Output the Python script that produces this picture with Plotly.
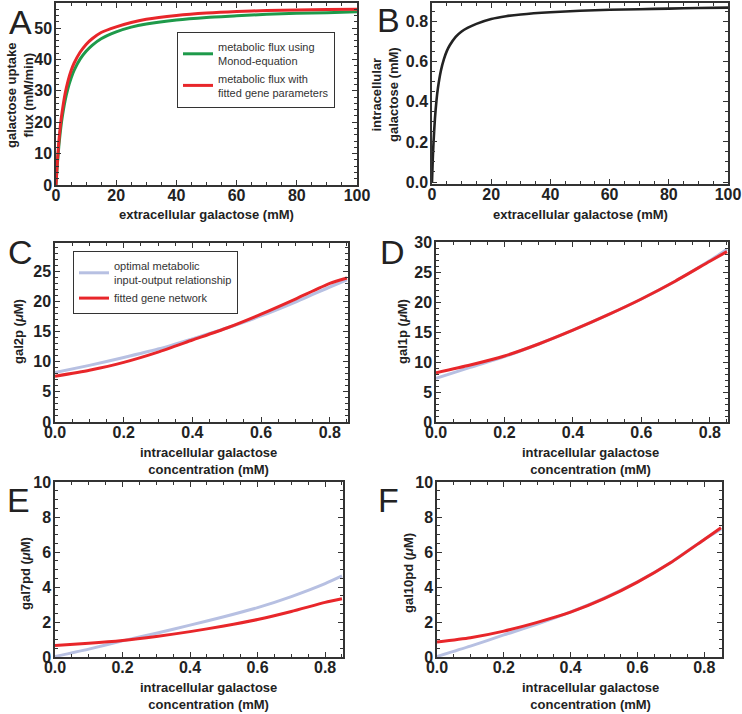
import plotly.graph_objects as go

W, H = 742, 714

# ---------------- data ----------------
# Panel A: galactose uptake flux vs extracellular galactose
a_x = [0, 0.25, 0.5, 1, 1.5, 2, 3, 4, 5, 6, 8, 10, 12, 15, 20, 25, 30, 40, 50, 60, 70, 80, 90, 100]
a_monod = [0, 3.9, 7.3, 13.0, 17.5, 21.2, 26.8, 30.9, 34.0, 36.5, 40.1, 42.6, 44.5, 46.6, 48.8, 50.3,
           51.3, 52.6, 53.4, 53.9, 54.4, 54.7, 54.9, 55.2]
a_fitted = [0, 4.3, 8.0, 14.5, 19.3, 23.0, 29.0, 33.2, 36.4, 38.8, 42.3, 44.8, 46.6, 48.6, 50.4, 51.8,
            52.8, 54.0, 54.8, 55.3, 55.6, 55.8, 55.9, 56.0]

# Panel B: intracellular galactose vs extracellular galactose
b_x = [0, 0.25, 0.5, 1, 1.5, 2, 3, 4, 5, 6, 8, 10, 12, 15, 20, 25, 30, 40, 50, 60, 70, 80, 90, 100]
b_y = [0, 0.11, 0.194, 0.318, 0.405, 0.468, 0.555, 0.612, 0.653, 0.682, 0.724, 0.751, 0.769, 0.789,
       0.813, 0.827, 0.836, 0.847, 0.854, 0.859, 0.862, 0.865, 0.868, 0.870]

# Panels C-F: protein levels vs intracellular galactose
g_x = [0, 0.1, 0.2, 0.3, 0.4, 0.5, 0.6, 0.7, 0.8, 0.85]
c_opt = [8.2, 9.4, 10.7, 12.1, 13.8, 15.6, 17.6, 19.9, 22.4, 23.6]
c_fit = [7.6, 8.6, 9.9, 11.6, 13.6, 15.6, 17.9, 20.4, 23.0, 23.9]
d_opt = [7.3, 9.1, 10.9, 13.0, 15.3, 17.8, 20.5, 23.5, 26.9, 28.8]
d_fit = [8.2, 9.5, 11.0, 13.0, 15.3, 17.8, 20.5, 23.5, 26.8, 28.4]
e_opt = [0.03, 0.45, 0.92, 1.36, 1.82, 2.30, 2.82, 3.45, 4.19, 4.63]
e_fit = [0.66, 0.78, 0.94, 1.17, 1.45, 1.77, 2.14, 2.60, 3.12, 3.33]
f_opt = [0.03, 0.62, 1.26, 1.88, 2.58, 3.37, 4.30, 5.40, 6.72, 7.30]
f_fit = [0.86, 1.10, 1.48, 1.98, 2.56, 3.33, 4.28, 5.40, 6.72, 7.38]

GREEN = "#1e9a4a"
RED = "#e8262a"
BLUE = "#b7c0e2"
BLACK = "#222222"
AX = "#333333"
FONT = "Liberation Sans"

fig = go.Figure()

def line(x, y, color, xa, ya, name=None, legend=None, show=False, width=3):
    fig.add_trace(go.Scatter(x=x, y=y, mode="lines", line=dict(color=color, width=width, shape="spline", smoothing=0.6),
                             xaxis=xa, yaxis=ya, name=name, showlegend=show, legend=legend))

line(a_x, a_monod, GREEN, "x", "y", "metabolic flux using<br>Monod-equation", "legend", True)
line(a_x, a_fitted, RED, "x", "y", "metabolic flux with<br>fitted gene parameters", "legend", True)
line(b_x, b_y, BLACK, "x2", "y2", width=2.6)
line(g_x, c_opt, BLUE, "x3", "y3", "optimal metabolic<br>input-output relationship", "legend2", True)
line(g_x, c_fit, RED, "x3", "y3", "fitted gene network", "legend2", True)
line(g_x, d_opt, BLUE, "x4", "y4")
line(g_x, d_fit, RED, "x4", "y4")
line(g_x, e_opt, BLUE, "x5", "y5")
line(g_x, e_fit, RED, "x5", "y5")
line(g_x, f_opt, BLUE, "x6", "y6")
line(g_x, f_fit, RED, "x6", "y6")

# plot areas in pixels: (left, right, top, bottom)
boxes = {
    1: (56, 357, 3, 185),
    2: (432, 728, 3, 184),
    3: (55, 348, 243, 422),
    4: (436, 728, 242, 422),
    5: (55, 343, 482, 657),
    6: (437, 722, 482, 657),
}
xspec = {
    1: dict(range=[0, 100], dtick=20, minor=5, fmt=None),
    2: dict(range=[0, 100], dtick=20, minor=5, fmt=None),
    3: dict(range=[0, 0.853], dtick=0.2, minor=0.05, fmt=".1f"),
    4: dict(range=[0, 0.853], dtick=0.2, minor=0.05, fmt=".1f"),
    5: dict(range=[0, 0.853], dtick=0.2, minor=0.05, fmt=".1f"),
    6: dict(range=[0, 0.853], dtick=0.2, minor=0.05, fmt=".1f"),
}
yspec = {
    1: dict(range=[0, 58], dtick=10, minor=2, fmt=None),
    2: dict(range=[-0.01, 0.893], dtick=0.2, minor=0.05, fmt=".1f"),
    3: dict(range=[0, 29.7], dtick=5, minor=1, fmt=None),
    4: dict(range=[0, 30], dtick=5, minor=1, fmt=None),
    5: dict(range=[0, 10], dtick=2, minor=0.5, fmt=None),
    6: dict(range=[0, 10], dtick=2, minor=0.5, fmt=None),
}

layout = {}
for i, (l, r, t, b) in boxes.items():
    sfx = "" if i == 1 else str(i)
    common = dict(showline=True, linecolor=AX, linewidth=1.5, mirror="allticks", ticks="inside",
                  ticklen=5, tickwidth=1, tickcolor=AX, showgrid=False, zeroline=False, automargin=False,
                  tickfont=dict(family=FONT, size=16, color="#222", weight="bold"))
    xs = xspec[i]
    ys = yspec[i]
    layout["xaxis" + sfx] = dict(common, domain=[l / W, r / W], anchor="y" + sfx, range=xs["range"],
                                 tick0=0, dtick=xs["dtick"], ticklabelstandoff=-5,
                                 minor=dict(dtick=xs["minor"], ticks="inside", ticklen=3, tickcolor=AX, showgrid=False),
                                 **({"tickformat": xs["fmt"]} if xs["fmt"] else {}))
    layout["yaxis" + sfx] = dict(common, domain=[1 - b / H, 1 - t / H], anchor="x" + sfx, range=ys["range"],
                                 tick0=0, dtick=ys["dtick"], ticklabelstandoff=-1,
                                 minor=dict(dtick=ys["minor"], ticks="inside", ticklen=3, tickcolor=AX, showgrid=False),
                                 **({"tickformat": ys["fmt"]} if ys["fmt"] else {}))

fig.update_layout(**layout)

anns = []
def text(x, y, s, size=13, bold=True, angle=0, xanchor="center"):
    anns.append(dict(x=x / W, y=1 - y / H, xref="paper", yref="paper", text=s, showarrow=False,
                     textangle=angle, xanchor=xanchor, yanchor="middle",
                     font=dict(family=FONT, size=size, color="#222", weight="bold" if bold else "normal")))

# panel letters
for lab, x, y in [("A", 20, 22), ("B", 388, 20), ("C", 20, 252), ("D", 392, 252), ("E", 18, 500), ("F", 388, 500)]:
    text(x, y, lab, size=34, bold=False)

# axis titles
text(206, 214, "extracellular galactose (mM)")
text(580, 214, "extracellular galactose (mM)")
text(20, 95, "galactose uptake<br>flux (mM/min)", angle=-90)
text(385, 95, "intracellular<br>galactose (mM)", angle=-90)
text(18, 332, "gal2p (<i>μ</i>M)", angle=-90)
text(402, 332, "gal1p (<i>μ</i>M)", angle=-90)
text(25, 573, "gal7pd (<i>μ</i>M)", angle=-90)
text(408, 573, "gal10pd (<i>μ</i>M)", angle=-90)
for cx, y0 in [(208, 453), (590, 453), (208, 688), (590, 688)]:
    text(cx, y0 + 8, "intracellular galactose<br>concentration (mM)")

fig.update_layout(
    annotations=anns,
    width=W, height=H, margin=dict(l=0, r=0, t=0, b=0),
    paper_bgcolor="white", plot_bgcolor="white",
    legend=dict(x=177 / W, y=1 - 32 / H, xanchor="left", yanchor="top", bordercolor=AX, borderwidth=1,
                bgcolor="white", font=dict(family=FONT, size=11, color="#333"), itemwidth=30,
                tracegroupgap=0),
    legend2=dict(x=73 / W, y=1 - 251 / H, xanchor="left", yanchor="top", bordercolor=AX, borderwidth=1,
                 bgcolor="white", font=dict(family=FONT, size=11, color="#333"), itemwidth=30),
)

fig.write_html("out.html", config={"displayModeBar": False},
               post_script="document.body.style.margin='0';document.body.style.padding='0';")
